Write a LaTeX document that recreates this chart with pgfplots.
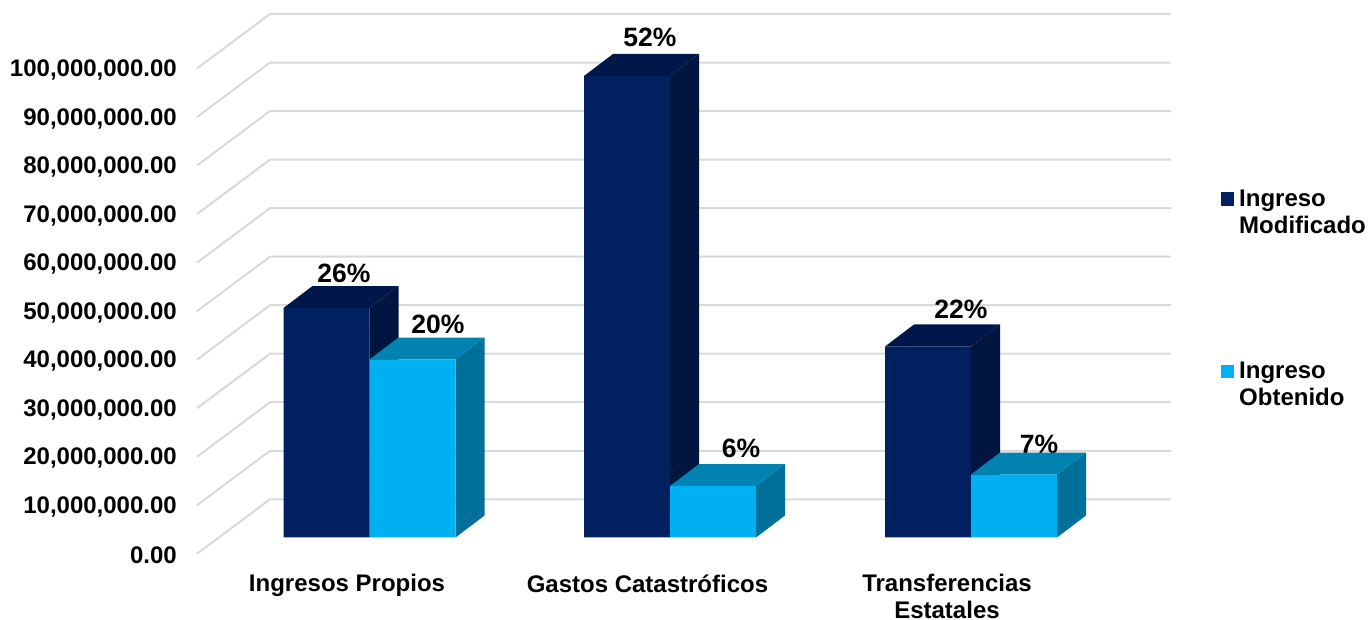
\documentclass[border=0pt]{standalone}
\usepackage{pgfplots}
\pgfplotsset{compat=1.18}
\usepackage{fontspec}
\setmainfont{Liberation Sans}
\definecolor{navy}{HTML}{002060}
\definecolor{navyside}{HTML}{00153F}
\definecolor{navytop}{HTML}{00174A}
\definecolor{sky}{HTML}{00B0F0}
\definecolor{skyside}{HTML}{006F99}
\definecolor{skytop}{HTML}{0083B0}
\definecolor{gridc}{HTML}{D9D9D9}
\newcommand{\lbl}{\fontsize{24}{26.6}\selectfont\bfseries}
\newcommand{\pct}{\fontsize{26.5}{28}\selectfont\bfseries}
\begin{document}
\begin{tikzpicture}
\path[use as bounding box] (0,0) rectangle (1368pt,619pt);
\begin{axis}[
  at={(197pt,65.2pt)}, anchor=south west,
  scale only axis, width=974pt, height=539.8pt,
  xmin=197, xmax=1171, ymin=-3.36, ymax=107.87,
  clip=false,
  axis line style={draw=none},
  major tick length=0pt,
  ytick={-3.36,6.64,16.64,26.64,36.64,46.64,56.64,66.64,76.64,86.64,96.64},
  yticklabels={{0.00},{10,000,000.00},{20,000,000.00},{30,000,000.00},{40,000,000.00},{50,000,000.00},{60,000,000.00},{70,000,000.00},{80,000,000.00},{90,000,000.00},{100,000,000.00}},
  xtick={347,647.5,947},
  xticklabels={{Ingresos Propios},{Gastos Catastróficos},{Transferencias\\Estatales}},
  yticklabel style={font=\lbl, anchor=east, inner sep=0pt, xshift=-20pt, yshift=-1.5pt},
  xticklabel style={font=\lbl, align=center, anchor=north, inner sep=0pt, yshift=-20.5pt},
]
% wall and side gridlines
\addplot[gridc,line width=2pt] coordinates {(197,-3.36)(270,7.87)(1171,7.87)};
\addplot[gridc,line width=2pt] coordinates {(197,6.64)(270,17.87)(1171,17.87)};
\addplot[gridc,line width=2pt] coordinates {(197,16.64)(270,27.87)(1171,27.87)};
\addplot[gridc,line width=2pt] coordinates {(197,26.64)(270,37.87)(1171,37.87)};
\addplot[gridc,line width=2pt] coordinates {(197,36.64)(270,47.87)(1171,47.87)};
\addplot[gridc,line width=2pt] coordinates {(197,46.64)(270,57.87)(1171,57.87)};
\addplot[gridc,line width=2pt] coordinates {(197,56.64)(270,67.87)(1171,67.87)};
\addplot[gridc,line width=2pt] coordinates {(197,66.64)(270,77.87)(1171,77.87)};
\addplot[gridc,line width=2pt] coordinates {(197,76.64)(270,87.87)(1171,87.87)};
\addplot[gridc,line width=2pt] coordinates {(197,86.64)(270,97.87)(1171,97.87)};
\addplot[gridc,line width=2pt] coordinates {(197,96.64)(270,107.87)(1171,107.87)};
% Ingreso Modificado
\addplot[fill=navyside,draw=none] coordinates {(369.5,0)(398.5,4.53)(398.5,51.82)(369.5,47.29)} -- cycle;
\addplot[fill=navytop,draw=none] coordinates {(283.5,47.29)(312.5,51.82)(398.5,51.82)(369.5,47.29)} -- cycle;
\addplot[fill=navyside,draw=none] coordinates {(670,0)(699,4.53)(699,99.63)(670,95.10)} -- cycle;
\addplot[fill=navytop,draw=none] coordinates {(584,95.10)(613,99.63)(699,99.63)(670,95.10)} -- cycle;
\addplot[fill=navyside,draw=none] coordinates {(971,0)(1000,4.53)(1000,43.89)(971,39.36)} -- cycle;
\addplot[fill=navytop,draw=none] coordinates {(885,39.36)(914,43.89)(1000,43.89)(971,39.36)} -- cycle;
\addplot[ybar,bar width=86pt,bar shift=0pt,fill=navy,draw=none] coordinates {(326.5,47.29)(627,95.10)(928,39.36)};
% value labels behind the lighter bars' tops where they overlap
\node[font=\pct,inner sep=0pt] at (axis cs:344,54.5) {26\%};
\node[font=\pct,inner sep=0pt] at (axis cs:438,44) {20\%};
\node[font=\pct,inner sep=0pt] at (axis cs:650,103.1) {52\%};
\node[font=\pct,inner sep=0pt] at (axis cs:741,18.4) {6\%};
\node[font=\pct,inner sep=0pt] at (axis cs:961,47.1) {22\%};
\node[font=\pct,inner sep=0pt] at (axis cs:1039,19.2) {7\%};
% Ingreso Obtenido
\addplot[fill=skyside,draw=none] coordinates {(455.5,0)(484.5,4.53)(484.5,41.21)(455.5,36.68)} -- cycle;
\addplot[fill=skytop,draw=none] coordinates {(369.5,36.68)(398.5,41.21)(484.5,41.21)(455.5,36.68)} -- cycle;
\addplot[fill=skyside,draw=none] coordinates {(756,0)(785,4.53)(785,15.14)(756,10.61)} -- cycle;
\addplot[fill=skytop,draw=none] coordinates {(670,10.61)(699,15.14)(785,15.14)(756,10.61)} -- cycle;
\addplot[fill=skyside,draw=none] coordinates {(1057,0)(1086,4.53)(1086,17.51)(1057,12.98)} -- cycle;
\addplot[fill=skytop,draw=none] coordinates {(971,12.98)(1000,17.51)(1086,17.51)(1057,12.98)} -- cycle;
\addplot[ybar,bar width=86pt,bar shift=0pt,fill=sky,draw=none] coordinates {(412.5,36.68)(713,10.61)(1014,12.98)};
% legend
\fill[navy] (axis cs:1221,71.1) rectangle (axis cs:1234,68.4);
\fill[sky] (axis cs:1221,35.6) rectangle (axis cs:1234,32.96);
\node[font=\lbl,inner sep=0pt,align=left,anchor=west] at (axis cs:1239,67.1) {Ingreso\\Modificado};
\node[font=\lbl,inner sep=0pt,align=left,anchor=west] at (axis cs:1239,31.7) {Ingreso\\Obtenido};
\end{axis}
\end{tikzpicture}
\end{document}
